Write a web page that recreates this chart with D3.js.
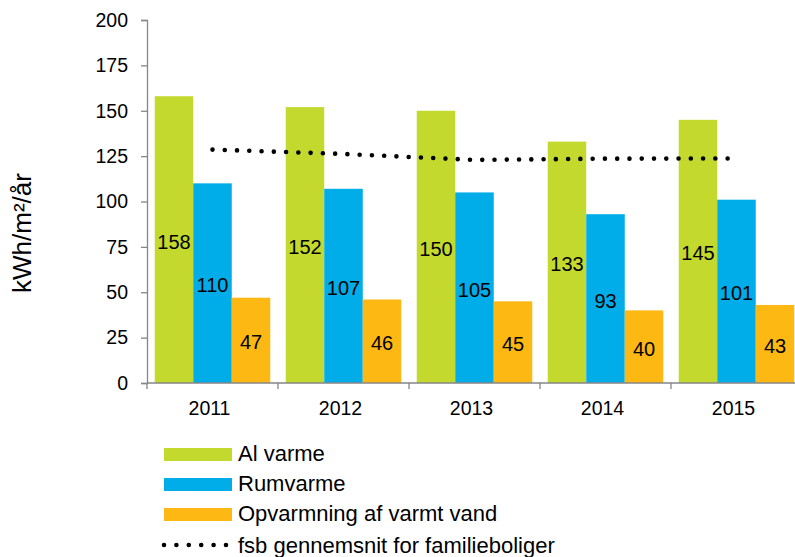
<!DOCTYPE html>
<html>
<head>
<meta charset="utf-8">
<script src="https://cdn.jsdelivr.net/npm/d3@7"></script>
<style>
  body { margin: 0; background: #fff; }
  text { font-family: "Liberation Sans", Arial, sans-serif; fill: #000; }
</style>
</head>
<body>
<div id="chart"></div>
<script>
var years = ['2011', '2012', '2013', '2014', '2015'];
var alVarme = [158, 152, 150, 133, 145];
var rumVarme = [110, 107, 105, 93, 101];
var varmtVand = [47, 46, 45, 40, 43];
var fsbSnit = [128.6, 126.2, 122.9, 123.6, 123.7];
var yTicks = [0, 25, 50, 75, 100, 125, 150, 175, 200];
var seriesNames = ['Al varme', 'Rumvarme', 'Opvarmning af varmt vand'];
var lineName = 'fsb gennemsnit for familieboliger';
var colors = ['#c4d92e', '#00ade9', '#fdb813'];

var width = 795, height = 557;
// plot area (right side runs past the window, as in the original)
var plotLeft = 147, plotRight = 802, plotTop = 20, plotBottom = 383;

var svg = d3.select('#chart').append('svg')
    .attr('width', width)
    .attr('height', height);

var x = d3.scaleBand().domain(years).range([plotLeft, plotRight])
    .paddingInner(0.118).paddingOuter(0.059);
var xCat = d3.scaleBand().domain(years).range([plotLeft, plotRight]);
var sub = d3.scaleBand().domain([0, 1, 2]).range([0, x.bandwidth()]);
var y = d3.scaleLinear().domain([0, 200]).range([plotBottom, plotTop]);

var series = [alVarme, rumVarme, varmtVand];

// bars
series.forEach(function(vals, s) {
    var g = svg.append('g');
    g.selectAll('rect').data(vals).enter().append('rect')
        .attr('x', function(d, i) { return x(years[i]) + sub(s); })
        .attr('y', function(d) { return y(d); })
        .attr('width', sub.bandwidth())
        .attr('height', function(d) { return y(0) - y(d); })
        .attr('fill', colors[s]);
    g.selectAll('text').data(vals).enter().append('text')
        .attr('x', function(d, i) { return x(years[i]) + sub(s) + sub.bandwidth() / 2; })
        .attr('y', function(d) { return (y(d) + y(0)) / 2 + 2; })
        .attr('text-anchor', 'middle')
        .attr('dominant-baseline', 'central')
        .style('font-size', '20px')
        .text(function(d) { return d; });
});

// y axis
var yAxis = svg.append('g')
    .attr('transform', 'translate(' + plotLeft + ',0)')
    .call(d3.axisLeft(y).tickValues(yTicks).tickSize(6).tickPadding(13));
yAxis.select('.domain').attr('stroke', '#868686').attr('stroke-width', 1.3);
yAxis.selectAll('.tick line').attr('stroke', '#868686').attr('stroke-width', 1.3);
yAxis.selectAll('.tick text')
    .style('font-size', '19.5px')
    .style('font-family', '"Liberation Sans", Arial, sans-serif')
    .attr('fill', '#000');

// x axis
var xAxis = svg.append('g')
    .attr('transform', 'translate(0,' + plotBottom + ')');
xAxis.append('line')
    .attr('x1', plotLeft).attr('x2', plotRight)
    .attr('stroke', '#868686').attr('stroke-width', 1.3);
xAxis.selectAll('line.tk').data(years.concat(['end'])).enter().append('line')
    .attr('class', 'tk')
    .attr('x1', function(d, i) { return i < years.length ? xCat(d) : plotRight; })
    .attr('x2', function(d, i) { return i < years.length ? xCat(d) : plotRight; })
    .attr('y1', 0).attr('y2', 6)
    .attr('stroke', '#868686').attr('stroke-width', 1.3);
xAxis.selectAll('text').data(years).enter().append('text')
    .attr('x', function(d) { return xCat(d) + xCat.bandwidth() / 2 - 3; })
    .attr('y', 32)
    .attr('text-anchor', 'middle')
    .style('font-size', '19.5px')
    .text(function(d) { return d; });

// y title
svg.append('text')
    .attr('transform', 'translate(31,233) rotate(-90)')
    .attr('text-anchor', 'middle')
    .style('font-size', '26px')
    .text('kWh/m\u00b2/\u00e5r');

// dotted average line
var line = d3.line()
    .x(function(d, i) { return xCat(years[i]) + xCat.bandwidth() / 2; })
    .y(function(d) { return y(d); });
svg.append('path')
    .datum(fsbSnit)
    .attr('d', line)
    .attr('fill', 'none')
    .attr('stroke', '#000')
    .attr('stroke-width', 4.6)
    .attr('stroke-linecap', 'round')
    .attr('stroke-dasharray', '0 12.27');

// legend
var legend = svg.append('g');
seriesNames.forEach(function(name, i) {
    var ly = 448 + i * 30;
    legend.append('rect')
        .attr('x', 164).attr('y', ly)
        .attr('width', 68).attr('height', 13)
        .attr('fill', colors[i]);
    legend.append('text')
        .attr('x', 238).attr('y', ly + 13)
        .style('font-size', '22px')
        .text(name);
});
legend.append('line')
    .attr('x1', 164).attr('x2', 228)
    .attr('y1', 545).attr('y2', 545)
    .attr('stroke', '#000')
    .attr('stroke-width', 4.6)
    .attr('stroke-linecap', 'round')
    .attr('stroke-dasharray', '0 12.4');
legend.append('text')
    .attr('x', 238).attr('y', 553)
    .style('font-size', '22px')
    .text(lineName);
</script>
</body>
</html>
